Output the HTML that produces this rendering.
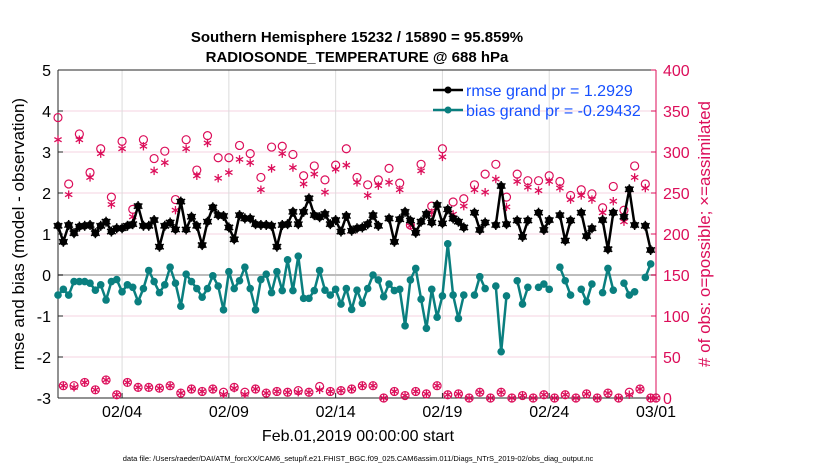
<!DOCTYPE html>
<html><head><meta charset="utf-8">
<style>
html,body{margin:0;padding:0;background:#fff;}
svg{display:block;font-family:"Liberation Sans",Arial,sans-serif;}
</style></head>
<body>
<svg id="chart" width="830" height="470" viewBox="0 0 830 470">
  <text x="357" y="42" text-anchor="middle" font-size="15" font-weight="bold">Southern Hemisphere 15232 / 15890 = 95.859%</text>
  <text x="357" y="62" text-anchor="middle" font-size="15" font-weight="bold">RADIOSONDE_TEMPERATURE @ 688 hPa</text>
  <g id="grid"></g>
  <g id="axes"></g>
  <g id="obs"></g>
  <g id="series"></g>
  <g id="legend">
    <line x1="433" y1="90" x2="463" y2="90" stroke="#000" stroke-width="2.5"/>
    <circle cx="448" cy="90" r="3.5" fill="#000"/>
    <text x="466" y="96" font-size="16" fill="#1650ff">rmse grand pr = 1.2929</text>
    <line x1="433" y1="110" x2="463" y2="110" stroke="#0a7f7f" stroke-width="2.5"/>
    <circle cx="448" cy="110" r="3.5" fill="#0a7f7f"/>
    <text x="466" y="116" font-size="16" fill="#1650ff">bias grand pr = -0.29432</text>
  </g>
  <text x="0" y="0" transform="translate(24,234) rotate(-90)" text-anchor="middle" font-size="17">rmse and bias (model - observation)</text>
  <text x="0" y="0" transform="translate(710,234) rotate(-90)" text-anchor="middle" font-size="17" fill="#dc0e5a"># of obs: o=possible; ×=assimilated</text>
  <text x="358" y="441" text-anchor="middle" font-size="16">Feb.01,2019 00:00:00 start</text>
  <text x="358" y="461" text-anchor="middle" font-size="7.5">data file: /Users/raeder/DAI/ATM_forcXX/CAM6_setup/f.e21.FHIST_BGC.f09_025.CAM6assim.011/Diags_NTrS_2019-02/obs_diag_output.nc</text>
</svg>
<script>
const xTickDays = [3, 8, 13, 18, 23, 28];
const xTickLabels = ["02/04", "02/09", "02/14", "02/19", "02/24", "03/01"];
const leftTicks = [5, 4, 3, 2, 1, 0, -1, -2, -3];
const rightTicks = [400, 350, 300, 250, 200, 150, 100, 50, 0];
const rmse = [1.2,0.81,1.22,1.02,1.18,1.2,1.22,1.02,1.2,1.3,1.06,1.14,1.14,1.2,1.24,1.68,1.2,1.2,1.34,0.69,1.2,1.28,1.11,1.79,1.11,1.42,1.2,0.73,1.3,1.65,1.46,1.44,1.16,0.87,1.46,1.38,1.38,1.24,
1.22,1.22,1.2,0.69,1.22,1.24,1.54,1.24,1.54,1.87,1.46,1.41,1.49,1.24,1.34,1.06,1.44,1.08,1.14,1.16,1.24,1.46,1.2,null,1.38,0.81,1.36,1.54,1.33,1.03,1.3,1.49,1.28,1.71,1.26,1.6,1.38,1.3,
1.16,null,1.52,1.1,1.28,null,1.22,2.17,1.24,null,1.33,0.93,1.33,null,1.52,1.1,1.34,null,1.46,0.84,1.33,null,1.52,0.95,1.14,null,1.34,0.63,1.52,null,1.42,2.09,1.22,null,1.2,0.61];
const bias = [-0.49,-0.35,-0.49,-0.16,-0.16,-0.16,-0.2,-0.37,-0.24,-0.61,-0.16,-0.11,-0.41,-0.24,-0.3,-0.65,-0.33,0.11,-0.16,-0.43,-0.24,0.19,-0.2,-0.76,0.02,-0.16,-0.33,-0.54,-0.33,-0.02,-0.27,-0.85,0.08,-0.33,-0.14,0.19,-0.33,-0.85,
-0.11,0.02,-0.43,0.08,-0.38,0.37,-0.38,0.46,-0.57,-0.57,-0.38,0.11,-0.37,-0.49,-0.35,-0.71,-0.33,-0.84,-0.37,-0.69,-0.33,0,-0.12,-0.53,-0.22,-0.38,-0.35,-1.24,-0.12,0.16,-0.59,-1.3,-0.35,-1.03,-0.51,0.76,-0.49,-1.06,
-0.49,null,-0.49,-0.04,-0.33,null,-0.27,-1.87,-0.51,null,-0.14,-0.71,-0.3,null,-0.3,-0.22,-0.35,null,0.19,-0.14,-0.49,null,-0.35,-0.65,-0.22,null,-0.43,0.16,-0.37,null,-0.2,-0.49,-0.41,null,-0.06,0.27];
const obsPossible = [342,15,261,15,322,19,275,10,304,22,245,4,313,19,230,13,315,13,292,12,301,15,242,6,315,11,278,8,320,11,293,7,293,13,308,7,298,11,269,6,
306,8,307,7,297,9,271,7,283,14,266,8,284,9,304,11,269,15,260,15,266,0,280,8,262,3,211,8,285,5,234,15,304,4,239,5,
243,0,260,7,273,0,285,7,245,0,273,3,265,0,265,4,271,0,264,4,247,0,254,5,249,0,232,6,258,0,229,7,283,11,261,0,0];
const obsAssim = [315,15,248,13,315,19,269,10,298,22,236,4,304,19,221,13,307,13,277,12,287,15,229,6,304,11,271,8,311,11,268,4.5,275,12,291,4.5,287,11,254,6,
280,8,298,7,281,7,261,7,273,10,251,8,279,9,284,11,263,15,247,15,259,0,263,8,254,3,210,8,277,5,226,15,294,4,224,5,
234,0,254,7,251,0,267,7,233,0,264,3,257,0,253,4,264,0,256,4,242,0,247,5,242,0,226,6,240,0,215,4,269,11,256,0,0];
const STEP_DAYS = 0.25;

const NS = "http://www.w3.org/2000/svg";
const X0 = 58, X1 = 656, YT = 70, YB = 398;
const xScale = d => X0 + (d / 28) * (X1 - X0);
const yLeft = v => YB - (v + 3) / 8 * (YB - YT);
const yRight = v => YB - v / 400 * (YB - YT);
const PINK = "#dc0e5a", TEAL = "#0a7f7f";
function mk(tag, attrs, parent) {
  const e = document.createElementNS(NS, tag);
  for (const k in attrs) e.setAttribute(k, attrs[k]);
  parent.appendChild(e);
  return e;
}
const grid = document.getElementById("grid");
const axes = document.getElementById("axes");
const obsG = document.getElementById("obs");
const ser = document.getElementById("series");

leftTicks.forEach(v => {
  const y = yLeft(v);
  const l = mk("line", {x1: X0, x2: X1, y1: y, y2: y, stroke: "#f4d3e1", "stroke-width": 1}, grid);
  
  
});
xTickDays.forEach(d => {
  const x = xScale(d);
  const l = mk("line", {x1: x, x2: x, y1: YT, y2: YB, stroke: "#dcdcdc", "stroke-width": 1}, grid);
  
  
});
const zl = mk("line", {x1: X0, x2: X1, y1: yLeft(0), y2: yLeft(0), stroke: "#bdbdbd", "stroke-width": 2}, grid);



mk("line", {x1: X0, x2: X0, y1: YT, y2: YB, stroke: "#262626", "stroke-width": 1}, axes);
mk("line", {x1: X0, x2: X1, y1: YB, y2: YB, stroke: "#262626", "stroke-width": 1}, axes);
mk("line", {x1: X0, x2: X1, y1: YT, y2: YT, stroke: "#262626", "stroke-width": 1}, axes);
mk("line", {x1: X1, x2: X1, y1: YT, y2: YB, stroke: PINK, "stroke-width": 1}, axes);

leftTicks.forEach(v => {
  const y = yLeft(v);
  mk("line", {x1: X0, x2: X0 + 5, y1: y, y2: y, stroke: "#262626"}, axes);
  const t = mk("text", {x: 51, y: y + 6, "text-anchor": "end", "font-size": 16}, axes);
  t.textContent = v;
  
  
});
rightTicks.forEach(v => {
  const y = yRight(v);
  mk("line", {x1: X1 - 5, x2: X1, y1: y, y2: y, stroke: PINK}, axes);
  const t = mk("text", {x: 663, y: y + 6, "font-size": 16, fill: PINK}, axes);
  t.textContent = v;
  
  
});
xTickDays.forEach((d, k) => {
  const x = xScale(d);
  mk("line", {x1: x, x2: x, y1: YB, y2: YB - 5, stroke: "#262626"}, axes);
  const t = mk("text", {x: x, y: 417, "text-anchor": "middle", "font-size": 16}, axes);
  t.textContent = xTickLabels[k];
  
  
});

function star(cx, cy, r, parent, name) {
  const g = mk("g", {stroke: PINK, "stroke-width": 1.3}, parent);
  
  
  for (let a = 0; a < 3; a++) {
    const ang = Math.PI / 2 + a * Math.PI / 3;
    mk("line", {x1: cx - r * Math.cos(ang), y1: cy - r * Math.sin(ang), x2: cx + r * Math.cos(ang), y2: cy + r * Math.sin(ang)}, g);
  }
}
obsPossible.forEach((v, i) => {
  if (v == null) return;
  const c = mk("circle", {cx: xScale(i * STEP_DAYS), cy: yRight(v), r: 4, fill: "none", stroke: PINK, "stroke-width": 1.2}, obsG);
  
  
});
obsAssim.forEach((v, i) => {
  if (v == null) return;
  star(xScale(i * STEP_DAYS), yRight(v), 4.2, obsG, 'obs-assimilated-point');
});

function drawSeries(vals, color, name, spiky) {
  let d = "", pen = false;
  vals.forEach((v, i) => {
    if (v == null) { pen = false; return; }
    d += (pen ? "L" : "M") + xScale(i * STEP_DAYS).toFixed(1) + "," + yLeft(v).toFixed(1);
    pen = true;
  });
  const p = mk("path", {d: d, fill: "none", stroke: color, "stroke-width": 2.5, "stroke-linejoin": "round"}, ser);
  
  
  vals.forEach((v, i) => {
    if (v == null) return;
    const cx = xScale(i * STEP_DAYS), cy = yLeft(v);
    const c = mk("circle", {cx: cx, cy: cy, r: 3.8, fill: color}, ser);
    
    
    if (spiky) {
      for (let a = 0; a < 3; a++) {
        const ang = Math.PI / 2 + a * Math.PI / 3;
        mk("line", {x1: cx - 5 * Math.cos(ang), y1: cy - 5 * Math.sin(ang), x2: cx + 5 * Math.cos(ang), y2: cy + 5 * Math.sin(ang), stroke: color, "stroke-width": 1.5}, ser);
      }
    }
  });
}
drawSeries(bias, TEAL, 'bias', false);
drawSeries(rmse, "#000", 'rmse', true);
</script>
</body></html>
